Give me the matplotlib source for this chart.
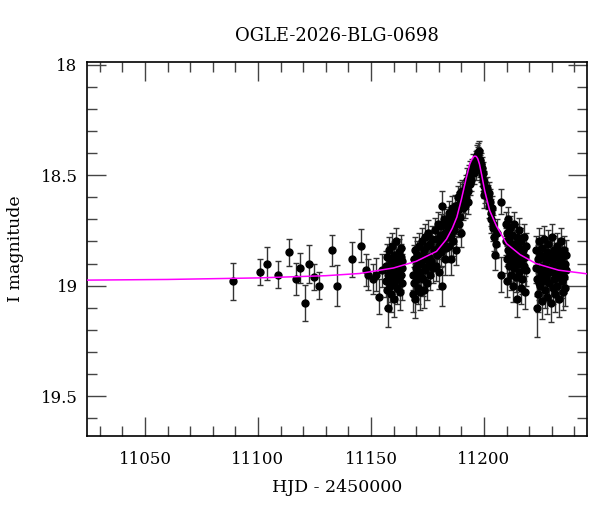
import numpy as np
import matplotlib
matplotlib.use("Agg")
import matplotlib.pyplot as plt
from matplotlib.ticker import MultipleLocator, FuncFormatter

plt.rcParams['font.family'] = ['DejaVu Serif']

title = "OGLE-2026-BLG-0698"
xlabel = "HJD - 2450000"
ylabel = "I magnitude"

# sparse early season
t_sparse = [11088.8, 11100.9, 11103.8, 11108.8, 11113.8, 11116.8, 11118.7, 11120.9, 11122.8,
            11124.9, 11126.8, 11132.8, 11134.8, 11141.7, 11145.6, 11147.7, 11148.7, 11150.8,
            11152.4, 11153.6, 11154.8]
m_sparse = [18.98, 18.94, 18.90, 18.95, 18.85, 18.97, 18.92, 19.08, 18.90, 18.96, 19.00, 18.84,
            19.00, 18.88, 18.82, 18.93, 18.95, 18.97, 18.95, 19.05, 18.93]
e_sparse = [0.084, 0.059, 0.075, 0.062, 0.063, 0.071, 0.068, 0.081, 0.086, 0.058, 0.062, 0.069,
            0.094, 0.079, 0.074, 0.073, 0.07, 0.07, 0.075, 0.08, 0.075]

# first dense block
t_a = [11156.5, 11156.7, 11156.9, 11157.2, 11157.5, 11157.7, 11158.0, 11158.2, 11158.5, 11158.7,
       11159.0, 11159.2, 11159.5, 11159.7, 11160.0, 11160.2, 11160.4, 11160.7, 11160.9, 11161.2,
       11161.4, 11161.7, 11161.9, 11162.1, 11162.4, 11162.6, 11162.8, 11163.0, 11163.2, 11163.4,
       11163.5, 11163.6, 11163.7, 11163.8, 11159.9]
m_a = [18.98, 18.91, 19.02, 18.87, 18.95, 19.10, 18.84, 19.00, 18.93, 18.89, 19.04, 18.97, 18.82,
       18.92, 18.99, 18.86, 19.06, 18.94, 18.90, 18.80, 18.96, 19.01, 18.88, 18.93, 18.85, 18.97,
       19.03, 18.91, 18.87, 18.95, 18.83, 18.99, 18.92, 18.89, 18.94]
e_a = [0.07, 0.065, 0.08, 0.06, 0.07, 0.085, 0.06, 0.075, 0.07, 0.065, 0.08, 0.07, 0.06, 0.065,
       0.075, 0.06, 0.08, 0.07, 0.065, 0.06, 0.07, 0.075, 0.065, 0.07, 0.06, 0.07, 0.08, 0.065,
       0.06, 0.07, 0.06, 0.075, 0.065, 0.06, 0.07]

# rising branch
t_b = [11168.5, 11168.7, 11168.9, 11169.2, 11169.4, 11169.7, 11169.9, 11170.2, 11170.4, 11170.6,
       11170.9, 11171.1, 11171.3, 11171.6, 11171.8, 11172.0,
       11172.3, 11172.5, 11172.8, 11173.0, 11173.3, 11173.5, 11173.8, 11174.0, 11174.3, 11174.6,
       11174.8, 11175.1, 11175.3, 11175.6, 11175.9, 11176.2, 11176.5, 11176.9, 11177.3, 11177.8,
       11178.2, 11178.5, 11178.8, 11179.1, 11179.4, 11179.7, 11180.0, 11180.3, 11180.6, 11180.9,
       11181.2, 11181.6, 11181.6, 11182.0, 11182.3, 11182.6, 11182.9, 11183.2, 11183.5, 11183.8,
       11184.1, 11184.4, 11184.7, 11185.0, 11185.3, 11185.5, 11185.8, 11186.1, 11186.3, 11186.6,
       11186.9, 11187.1, 11187.4, 11187.6, 11187.9, 11188.1,
       11188.4, 11188.6, 11188.9, 11189.1, 11189.4, 11189.6, 11189.9, 11190.1, 11190.3, 11190.5,
       11190.8, 11191.0,
       11191.3, 11191.6, 11191.9, 11192.2, 11192.5, 11192.8, 11193.1, 11193.4, 11193.7, 11194.0,
       11194.4, 11194.8, 11195.2, 11195.6]
m_b = [18.95, 19.04, 18.88, 18.99, 18.84, 19.06, 18.92, 18.97, 18.86, 19.01, 18.90, 18.94, 18.82,
       19.03, 18.89, 18.96,
       18.90, 18.80, 18.97, 18.86, 19.02, 18.84, 18.93, 18.78, 18.88, 18.99, 18.82, 18.91, 18.76,
       18.87, 18.95, 18.81, 18.89, 18.79, 18.92, 18.84,
       18.84, 18.75, 18.91, 18.79, 18.86, 18.72, 18.82, 18.94, 18.77, 18.85, 18.73, 18.64, 19.00,
       18.80, 18.70, 18.88, 18.76, 18.83, 18.71, 18.78,
       18.74, 18.67, 18.82, 18.70, 18.77, 18.88, 18.65, 18.73, 18.80, 18.68, 18.75, 18.64, 18.71,
       18.84, 18.66, 18.69,
       18.66, 18.60, 18.72, 18.63, 18.58, 18.69, 18.76, 18.61, 18.57, 18.65, 18.59, 18.62,
       18.58, 18.64, 18.55, 18.60, 18.52, 18.57, 18.62, 18.50, 18.54, 18.48, 18.52, 18.47, 18.45,
       18.49]
e_b = [0.07, 0.08, 0.065, 0.075, 0.06, 0.085, 0.065, 0.07, 0.06, 0.075, 0.065, 0.07, 0.06, 0.08,
       0.065, 0.07,
       0.065, 0.06, 0.075, 0.065, 0.08, 0.06, 0.07, 0.06, 0.065, 0.075, 0.06, 0.07, 0.055, 0.065,
       0.07, 0.06, 0.065, 0.06, 0.07, 0.06,
       0.06, 0.055, 0.07, 0.06, 0.065, 0.055, 0.06, 0.075, 0.06, 0.065, 0.055, 0.07, 0.09, 0.06,
       0.055, 0.07, 0.06, 0.065, 0.055, 0.06,
       0.06, 0.055, 0.065, 0.055, 0.06, 0.07, 0.055, 0.06, 0.065, 0.055, 0.06, 0.05, 0.055, 0.065,
       0.055, 0.055,
       0.055, 0.05, 0.06, 0.055, 0.05, 0.055, 0.065, 0.05, 0.05, 0.055, 0.05, 0.05,
       0.05, 0.055, 0.05, 0.055, 0.05, 0.05, 0.055, 0.045, 0.05, 0.045, 0.05, 0.045, 0.045, 0.05]

# peak and early decline
t_c = [11196.3, 11196.6, 11196.8, 11197.0, 11197.3, 11197.5, 11197.8, 11198.0, 11198.2, 11198.4,
       11198.6, 11198.8, 11199.0, 11199.2, 11199.4, 11199.6, 11199.8, 11200.0, 11200.2, 11200.5,
       11201.5, 11201.8, 11202.1, 11202.4, 11202.7, 11203.0, 11203.3, 11203.6, 11203.9, 11204.2,
       11204.5, 11204.8, 11205.2, 11205.6, 11207.7, 11207.7]
m_c = [18.47, 18.44, 18.41, 18.43, 18.40, 18.42, 18.39, 18.44, 18.46, 18.43, 18.48, 18.45, 18.50,
       18.47, 18.52, 18.49, 18.55, 18.53, 18.59, 18.57,
       18.56, 18.60, 18.58, 18.64, 18.62, 18.67, 18.70, 18.65, 18.74, 18.72, 18.78, 18.86, 18.81,
       18.76, 18.62, 18.95]
e_c = [0.05, 0.05, 0.045, 0.045, 0.045, 0.045, 0.045, 0.05, 0.05, 0.045, 0.05, 0.05, 0.05, 0.05,
       0.05, 0.05, 0.055, 0.05, 0.06, 0.055,
       0.05, 0.055, 0.05, 0.055, 0.055, 0.06, 0.06, 0.055, 0.06, 0.06, 0.065, 0.07, 0.065, 0.06,
       0.055, 0.08]

# late decline block
t_e = [11209.6, 11209.8, 11210.0, 11210.2, 11210.4, 11210.6, 11210.8, 11211.0, 11211.2, 11211.4,
       11211.7, 11211.9, 11212.1, 11212.4, 11212.6, 11212.8, 11213.1, 11213.3, 11213.5, 11213.8,
       11214.0, 11214.2, 11214.5, 11214.8, 11215.0, 11215.3, 11215.5, 11215.7, 11216.0, 11216.2,
       11216.5, 11216.7, 11217.0, 11217.2, 11217.5, 11217.7, 11218.0, 11218.2, 11218.5, 11218.8]
m_e = [18.80, 18.72, 18.88, 18.76, 18.98, 18.84, 18.70, 18.91, 18.79, 18.86, 18.74, 18.95, 18.82,
       18.89, 18.77, 19.00, 18.85, 18.72, 18.92, 18.81, 18.96, 18.87, 18.78, 19.06, 18.90, 18.83,
       18.75, 18.94, 18.86, 19.01, 18.80, 18.88, 18.97, 18.84, 18.91, 18.78, 19.03, 18.87, 18.93,
       18.82]
e_e = [0.06, 0.055, 0.065, 0.06, 0.07, 0.06, 0.055, 0.07, 0.06, 0.065, 0.055, 0.07, 0.06, 0.065,
       0.06, 0.075, 0.065, 0.055, 0.07, 0.06, 0.07, 0.065, 0.06, 0.08, 0.065, 0.06, 0.055, 0.07,
       0.065, 0.075, 0.06, 0.065, 0.07, 0.06, 0.07, 0.06, 0.075, 0.065, 0.07, 0.06]

# last block, back near baseline
t_f = [11223.0, 11223.2, 11223.4, 11223.6, 11223.9, 11224.1, 11224.3, 11224.6, 11224.8, 11225.0,
       11225.3, 11225.5, 11225.7, 11226.0, 11226.2, 11226.4, 11226.7, 11226.9, 11227.1, 11227.4,
       11227.6, 11227.8, 11228.1, 11228.3, 11228.5, 11228.8, 11229.0, 11229.2, 11229.5, 11229.7,
       11229.9, 11230.2, 11230.4, 11230.6, 11230.9, 11231.1, 11231.3, 11231.6, 11231.8, 11232.0,
       11232.3, 11232.5, 11232.7, 11233.0, 11233.2, 11233.4, 11233.7, 11233.9, 11234.1, 11234.4,
       11234.6, 11234.8, 11235.1, 11235.3, 11235.5, 11235.8, 11236.0, 11236.2, 11236.4, 11224.5]
m_f = [18.92, 18.84, 19.10, 18.97, 18.88, 19.04, 18.80, 18.93, 19.00, 18.86,
       18.95, 19.07, 18.83, 18.91, 18.98, 18.87, 18.79, 18.94, 19.02, 18.89,
       18.96, 18.85, 19.05, 18.92, 18.81, 18.99, 18.88, 18.94, 19.08, 18.86,
       18.93, 18.78, 19.01, 18.90, 18.97, 18.84, 18.92, 19.04, 18.87, 18.95,
       18.82, 19.00, 18.91, 18.96, 18.85, 19.06, 18.89, 18.94, 18.80, 18.98,
       18.87, 19.03, 18.92, 18.84, 18.96, 18.90, 19.01, 18.86, 18.93, 18.99]
e_f = [0.07, 0.065, 0.13, 0.075, 0.065, 0.08, 0.06, 0.07, 0.075, 0.065,
       0.07, 0.08, 0.06, 0.07, 0.075, 0.065, 0.06, 0.07, 0.08, 0.065,
       0.075, 0.065, 0.08, 0.07, 0.06, 0.075, 0.065, 0.07, 0.085, 0.065,
       0.07, 0.06, 0.075, 0.065, 0.075, 0.065, 0.07, 0.08, 0.065, 0.07,
       0.06, 0.075, 0.07, 0.075, 0.065, 0.08, 0.065, 0.07, 0.06, 0.075,
       0.065, 0.08, 0.07, 0.065, 0.075, 0.07, 0.08, 0.065, 0.07, 0.075]

# model curve
model_t = [11024, 11060, 11100, 11130, 11145, 11160, 11170, 11179, 11183.4, 11186, 11188, 11190,
           11192, 11193.7, 11194.8, 11195.5, 11196.0, 11196.6, 11197.2, 11198, 11199, 11200.3,
           11202.5, 11205.5, 11210, 11216, 11223, 11233, 11246]
model_m = [18.975, 18.972, 18.965, 18.955, 18.945, 18.92, 18.89, 18.845, 18.79, 18.74, 18.69,
           18.61, 18.52, 18.45, 18.425, 18.416, 18.414, 18.416, 18.425, 18.45, 18.50, 18.57,
           18.66, 18.73, 18.81, 18.86, 18.90, 18.93, 18.947]

t_all = np.concatenate([t_sparse, t_a, t_b, t_c, t_e, t_f])
m_all = np.concatenate([m_sparse, m_a, m_b, m_c, m_e, m_f])
e_all = np.concatenate([e_sparse, e_a, e_b, e_c, e_e, e_f])

fig = plt.figure(figsize=(6.0, 5.12), dpi=100)
ax = fig.add_axes([0.1455, 0.1484, 0.8333, 0.7299])

ax.errorbar(t_all, m_all, yerr=e_all, fmt='o', color='black', ms=5,
            ecolor='#333333', elinewidth=1.0, capsize=2.2, capthick=1.0, zorder=2)
ax.plot(model_t, model_m, color='#ff00ff', lw=1.1, zorder=3)

ax.set_xlim(11024.5, 11245.7)
ax.set_ylim(19.68, 17.99)

ax.xaxis.set_major_locator(MultipleLocator(50))
ax.xaxis.set_minor_locator(MultipleLocator(10))
ax.yaxis.set_major_locator(MultipleLocator(0.5))
ax.yaxis.set_minor_locator(MultipleLocator(0.1))
ax.yaxis.set_major_formatter(FuncFormatter(lambda v, p: '%g' % v))

ax.tick_params(which='both', direction='in', top=True, right=True, color='#444444', width=1.0)
ax.tick_params(which='major', length=13.5, labelsize=12)
ax.tick_params(axis='x', which='major', pad=10.5)
ax.tick_params(axis='y', which='major', pad=7)
ax.tick_params(which='minor', length=7)
for s in ax.spines.values():
    s.set_linewidth(1.2)

ax.set_xlabel(xlabel, fontsize=12.5, labelpad=8)
ax.set_ylabel(ylabel, fontsize=12.5, labelpad=12)
fig.text(0.562, 0.930, title, ha='center', va='center', fontsize=13)

fig.savefig('out.png', dpi=100)
